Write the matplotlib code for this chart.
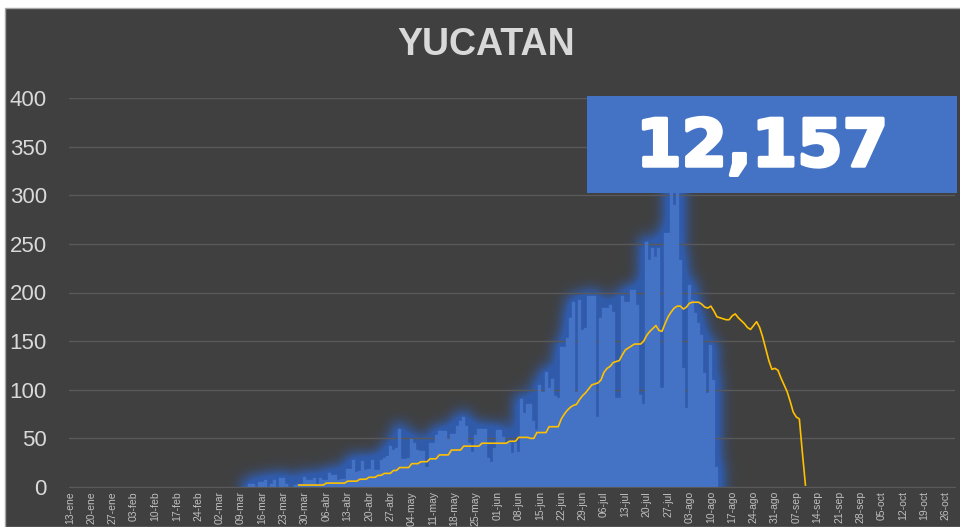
import matplotlib
matplotlib.use("Agg")
import matplotlib.pyplot as plt
import matplotlib.dates as mdates
import matplotlib.patheffects as pe
from matplotlib.colors import to_rgb
from matplotlib.patches import Rectangle
import numpy as np
import pandas as pd

plt.rcParams['font.family'] = ['Liberation Sans', 'DejaVu Sans']

# Casos diarios (desde el 10 de marzo)
casos_diarios = [
    0, 0, 3, 3, 0, 5, 5, 7, 0, 3, 7, 0, 9, 9, 3, 0, 0, 2, 3, 3,
    10, 7, 7, 9, 3, 9, 7, 7, 14, 12, 12, 7, 8, 8, 18, 18, 28, 15, 16, 27,
    17, 18, 28, 17, 17, 28, 30, 32, 42, 38, 40, 60, 29, 29, 30, 49, 45, 38, 37, 37,
    21, 45, 45, 53, 58, 58, 58, 49, 55, 55, 63, 68, 72, 63, 45, 36, 53, 60, 60, 60,
    30, 26, 40, 59, 59, 51, 45, 45, 35, 45, 36, 90, 76, 85, 85, 68, 59, 105, 98, 118,
    102, 111, 94, 92, 144, 144, 153, 174, 190, 98, 192, 161, 164, 196, 196, 196, 72, 174, 184, 184,
    187, 180, 92, 92, 196, 190, 190, 203, 203, 187, 95, 85, 252, 233, 246, 237, 246, 102, 261, 261,
    320, 290, 330, 233, 122, 81, 208, 192, 179, 169, 156, 117, 97, 146, 110, 21,
]
inicio_casos = '2020-03-10'

# Promedio (desde el 28 de marzo)
promedio = [
    2, 2, 2, 2, 2, 2, 2, 2, 2, 4, 4, 4, 4, 4, 4, 4, 6, 6, 6, 6,
    8, 8, 8, 10, 10, 10, 12, 12, 14, 14, 14, 17, 17, 20, 20, 20, 20, 24, 24, 24,
    26, 26, 26, 29, 29, 29, 33, 33, 33, 33, 38, 38, 38, 38, 42, 42, 42, 42, 42, 42,
    45, 45, 45, 45, 45, 45, 45, 45, 45, 47, 47, 47, 51, 51, 51, 51, 50, 50, 56, 56,
    56, 56, 62, 62, 62,
    62, 70, 75, 79, 82, 84, 85, 90, 94, 97, 101, 105, 106, 107, 110, 118, 122, 124, 128, 129,
    130, 136, 141, 143, 145, 147, 147, 147, 150, 156, 160, 163, 166, 161, 160, 168, 175, 180, 184, 186,
    186, 183, 185, 189, 190, 190, 190, 188, 185, 184, 186, 181, 175, 174, 173, 172, 172, 176, 178, 174,
    171, 168, 164, 162, 166, 170, 164, 154, 142, 130, 121, 122, 120, 112, 105, 98, 88, 77, 72, 70,
    35, 2,
]
inicio_promedio = '2020-03-28'

meses = ['ene', 'feb', 'mar', 'abr', 'may', 'jun', 'jul', 'ago', 'sep', 'oct', 'nov', 'dic']
fechas_eje = pd.date_range('2020-01-13', '2020-10-26', freq='7D')
etiquetas_eje = [f"{d.day:02d}-{meses[d.month - 1]}" for d in fechas_eje]
y_ticks = [0, 50, 100, 150, 200, 250, 300, 350, 400]

titulo = 'YUCATAN'
total = '12,157'

FONDO = '#404040'
AZUL = '#4472c4'
BRILLO = '#2f5fb8'
AMARILLO = '#ffc000'
GRIS = '#595959'

fechas_casos = pd.date_range(inicio_casos, periods=len(casos_diarios), freq='D')
fechas_prom = pd.date_range(inicio_promedio, periods=len(promedio), freq='D')

fig = plt.figure(figsize=(9.6, 5.27), dpi=100, facecolor='white')
fig.patches.append(Rectangle((4.5 / 960, 0), 1, 1 - 8 / 527, transform=fig.transFigure,
                             facecolor=FONDO, edgecolor='#a6a6a6', linewidth=1, zorder=-5))

ax = fig.add_axes([69 / 960, 1 - 487 / 527, (955 - 69) / 960, (487 - 98) / 527])
ax.set_facecolor('none')
ax.set_ylim(0, 400)
ax.set_xlim(mdates.date2num(pd.Timestamp('2020-01-13')) - 0.3,
            mdates.date2num(pd.Timestamp('2020-10-29')))

ax.bar(fechas_casos, casos_diarios, width=1.0, color=AZUL, edgecolor=AZUL, linewidth=0.3, zorder=2)
ax.plot(fechas_prom, promedio, color=AMARILLO, linewidth=1.2, zorder=3)

# brillo difuso alrededor de las barras: mascara en pixeles, dilatada y desenfocada
x_num = mdates.date2num(fechas_casos)
W, H = int(round(ax.bbox.width)), int(round(ax.bbox.height))
origen = np.array([ax.bbox.x0, ax.bbox.y0])
mascara = np.zeros((H, W))
for xc, v in zip(x_num, casos_diarios):
    px0, py0 = ax.transData.transform((xc - 0.5, 0)) - origen
    px1, py1 = ax.transData.transform((xc + 0.5, v)) - origen
    mascara[max(int(py0), 0):int(round(py1)), int(round(px0)):int(round(px1))] = 1

d = 5
m = np.pad(mascara, d, mode='edge')
dil = m.copy()
for s in range(1, d + 1):
    dil[:, s:] = np.maximum(dil[:, s:], m[:, :-s])
    dil[:, :-s] = np.maximum(dil[:, :-s], m[:, s:])
m = dil.copy()
for s in range(1, d + 1):
    dil[s:, :] = np.maximum(dil[s:, :], m[:-s, :])
    dil[:-s, :] = np.maximum(dil[:-s, :], m[s:, :])
mascara_d = dil[d:-d, d:-d]

sigma = 7
r = 3 * sigma
nucleo = np.exp(-0.5 * (np.arange(-r, r + 1) / sigma) ** 2)
nucleo /= nucleo.sum()
m = np.pad(mascara_d, r, mode='edge')
m = np.apply_along_axis(lambda a: np.convolve(a, nucleo, mode='same'), 1, m)
m = np.apply_along_axis(lambda a: np.convolve(a, nucleo, mode='same'), 0, m)
m = m[r:-r, r:-r]

brillo = np.zeros((H, W, 4))
brillo[..., :3] = to_rgb(BRILLO)
brillo[..., 3] = np.clip(m * 1.6, 0, 1) * 0.9
fig.figimage(brillo, xo=int(round(ax.bbox.x0)), yo=int(round(ax.bbox.y0)), origin='lower', zorder=-1)

ax.set_yticks(y_ticks)
ax.set_yticklabels([str(v) for v in y_ticks], fontsize=16, color='#d9d9d9')
ax.set_xticks(fechas_eje)
ax.set_xticklabels(etiquetas_eje, rotation=90, fontsize=7.5, color='#bfbfbf')
ax.tick_params(axis='y', length=0, pad=16)
ax.tick_params(axis='x', length=0, pad=3)
for lado in ['top', 'right', 'left']:
    ax.spines[lado].set_visible(False)
ax.spines['bottom'].set_color(GRIS)
ax.grid(axis='y', color=GRIS, linewidth=1, zorder=0)
ax.set_axisbelow(True)

fig.text(486 / 960, 1 - 45 / 527, titulo, ha='center', va='center', fontsize=27,
         fontweight='bold', color='#d9d9d9')

# recuadro con el total
fig.patches.append(Rectangle((587 / 960, 1 - 193 / 527), 370 / 960, 97 / 527,
                             transform=fig.transFigure, facecolor=AZUL, edgecolor='none', zorder=5))
fig.text(762 / 960, 1 - 166 / 527, total, ha='center', va='baseline', fontsize=47,
         fontweight='bold', color='white', family=['DejaVu Sans'], zorder=6,
         path_effects=[pe.withStroke(linewidth=2.5, foreground='white')])

fig.savefig('out.png', dpi=100, facecolor=fig.get_facecolor())
